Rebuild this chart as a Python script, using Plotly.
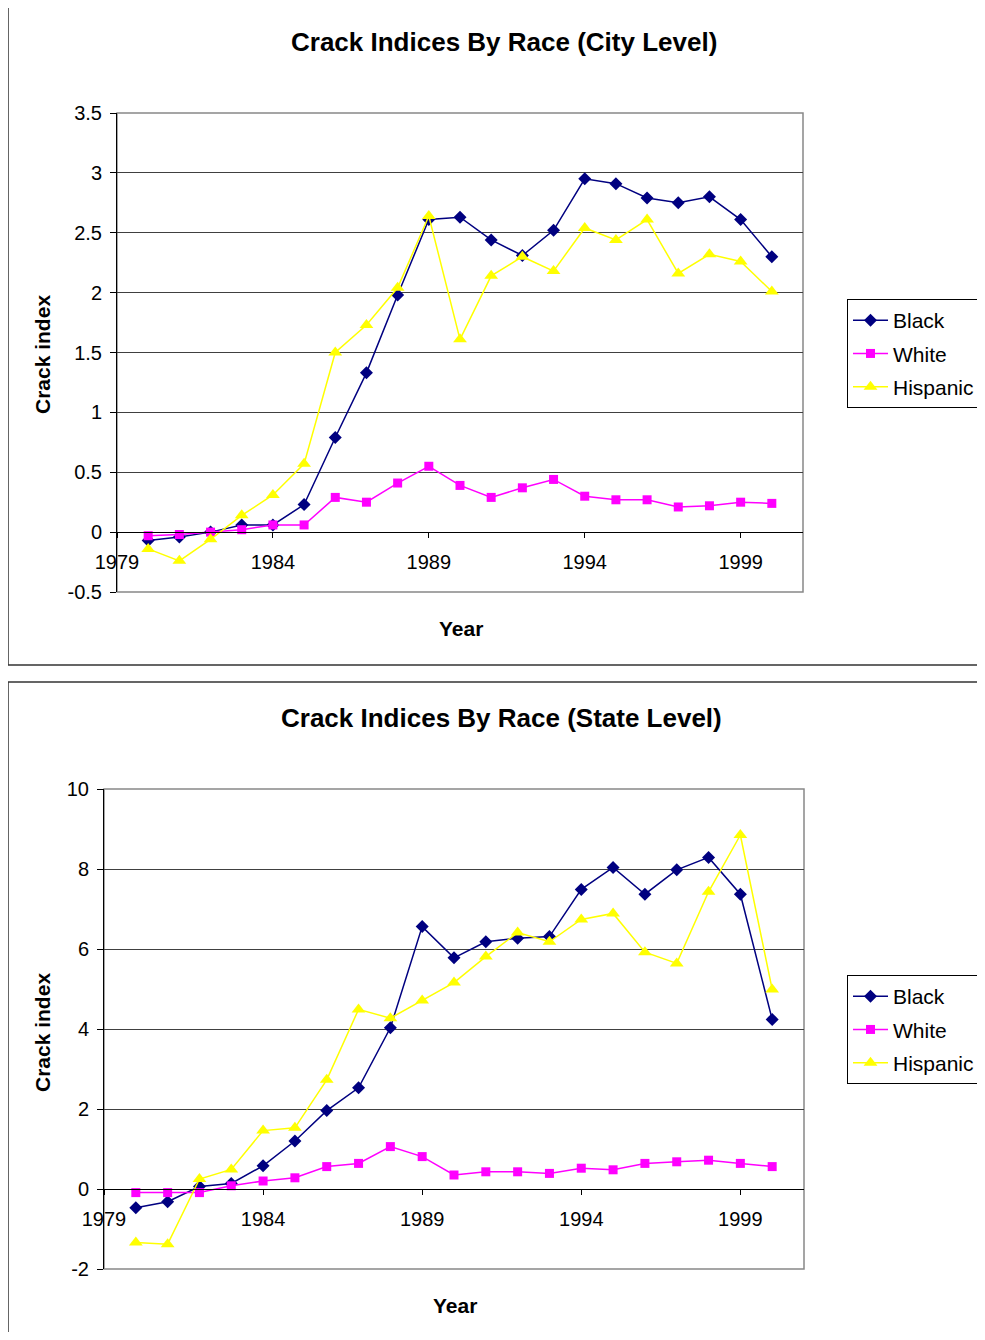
import plotly.graph_objects as go

# Años (1980-2000)
anios = list(range(1980, 2001))

# Índices a nivel ciudad
ciudad_black = [-0.07, -0.04, 0.0, 0.06, 0.06, 0.23, 0.79, 1.33, 1.98, 2.61, 2.63,
                2.44, 2.31, 2.52, 2.95, 2.91, 2.79, 2.75, 2.80, 2.61, 2.30]
ciudad_white = [-0.03, -0.02, 0.0, 0.02, 0.06, 0.06, 0.29, 0.25, 0.41, 0.55, 0.39,
                0.29, 0.37, 0.44, 0.30, 0.27, 0.27, 0.21, 0.22, 0.25, 0.24]
ciudad_hispanic = [-0.14, -0.24, -0.06, 0.14, 0.31, 0.57, 1.50, 1.73, 2.04, 2.64, 1.61,
                   2.14, 2.30, 2.18, 2.54, 2.44, 2.61, 2.16, 2.32, 2.26, 2.01]

# Índices a nivel estado
estado_black = [-0.47, -0.32, 0.06, 0.14, 0.58, 1.20, 1.96, 2.53, 4.03, 6.56, 5.78,
                6.18, 6.27, 6.31, 7.49, 8.04, 7.37, 7.98, 8.29, 7.37, 4.24]
estado_white = [-0.09, -0.09, -0.09, 0.08, 0.20, 0.28, 0.56, 0.64, 1.06, 0.81, 0.35,
                0.43, 0.43, 0.39, 0.52, 0.48, 0.64, 0.68, 0.72, 0.64, 0.56]
estado_hispanic = [-1.34, -1.38, 0.25, 0.49, 1.46, 1.53, 2.73, 4.49, 4.27, 4.71, 5.16,
                   5.81, 6.41, 6.18, 6.74, 6.89, 5.92, 5.64, 7.43, 8.85, 4.99]

# Marcas de los ejes
ticks_x = [1979, 1984, 1989, 1994, 1999]
ticks_y1 = [-0.5, 0, 0.5, 1, 1.5, 2, 2.5, 3, 3.5]
etiquetas_y1 = ['-0.5', '0', '0.5', '1', '1.5', '2', '2.5', '3', '3.5']
ticks_y2 = [-2, 0, 2, 4, 6, 8, 10]
etiquetas_y2 = ['-2', '0', '2', '4', '6', '8', '10']

# La página tiene 8 px de margen en el body: la figura se reduce para que quepa
OX, OY = 8, 8
W, H = 985 - 2 * OX, 1340 - 2 * OY
FUENTE = 'Liberation Sans, Arial, sans-serif'

ESTILOS = {
    'Black': dict(color='#000080', symbol='diamond', size=10),
    'White': dict(color='#FF00FF', symbol='square', size=9),
    'Hispanic': dict(color='#FFFF00', symbol='triangle-up', size=12),
}


def px_x(x):
    return (x - OX) / W


def px_y(y):
    return 1 - (y - OY) / H


fig = go.Figure()

series = [
    ('x', 'y', 'legend', [('Black', ciudad_black), ('White', ciudad_white), ('Hispanic', ciudad_hispanic)]),
    ('x2', 'y2', 'legend2', [('Black', estado_black), ('White', estado_white), ('Hispanic', estado_hispanic)]),
]

for xa, ya, leg, datos in series:
    for nombre, valores in datos:
        est = ESTILOS[nombre]
        fig.add_trace(go.Scatter(
            x=anios, y=valores, name=nombre, mode='lines+markers',
            xaxis=xa, yaxis=ya, legend=leg, legendgroup=xa + nombre,
            line=dict(color=est['color'], width=1.5),
            marker=dict(symbol=est['symbol'], size=est['size'],
                        color=est['color'], line=dict(width=0)),
        ))

# Dominios de las áreas de trazado (en píxeles del original)
dom1_x = [px_x(117), px_x(803)]
dom1_y = [px_y(592), px_y(113)]
dom2_x = [px_x(104), px_x(804)]
dom2_y = [px_y(1269), px_y(789)]

# Posición del eje x en y=0
pos1 = dom1_y[0] + (0 - (-0.5)) / 4.0 * (dom1_y[1] - dom1_y[0])
pos2 = dom2_y[0] + (0 - (-2)) / 12.0 * (dom2_y[1] - dom2_y[0])

tick_font = dict(family=FUENTE, size=20, color='black')

eje_x = dict(range=[1979, 2001], tickvals=ticks_x, showgrid=False, zeroline=False,
             showline=True, linecolor='black', linewidth=1, ticks='outside', ticklen=5,
             tickcolor='black', tickfont=tick_font, anchor='free', ticklabelstandoff=7)
eje_y = dict(showgrid=True, gridcolor='#404040', gridwidth=1, zeroline=False,
             showline=True, linecolor='black', linewidth=1, ticks='outside', ticklen=6,
             tickcolor='black', tickfont=tick_font, ticklabelstandoff=4)

leyenda = dict(xanchor='left', yanchor='top', bordercolor='black', borderwidth=1,
               bgcolor='white', font=dict(family=FUENTE, size=21, color='black'),
               tracegroupgap=3, itemwidth=35)

fig.update_layout(
    width=W, height=H,
    # sin autoexpand: la leyenda puede salirse por la derecha como en el original
    margin=dict(l=0, r=0, t=0, b=0, autoexpand=False),
    paper_bgcolor='white', plot_bgcolor='white',
    font=dict(family=FUENTE, color='black'),
    xaxis=dict(eje_x, domain=dom1_x, position=pos1),
    yaxis=dict(eje_y, domain=dom1_y, range=[-0.5, 3.5], tickvals=ticks_y1,
               ticktext=etiquetas_y1, anchor='x'),
    xaxis2=dict(eje_x, domain=dom2_x, position=pos2),
    yaxis2=dict(eje_y, domain=dom2_y, range=[-2, 10], tickvals=ticks_y2,
                ticktext=etiquetas_y2, anchor='x2'),
    legend=dict(leyenda, x=px_x(847), y=px_y(299)),
    legend2=dict(leyenda, x=px_x(847), y=px_y(975)),
)

# Marcos exteriores y bordes de las áreas de trazado
formas = [
    dict(type='rect', xref='paper', yref='paper', x0=px_x(8), x1=1.05, y0=px_y(665), y1=px_y(5),
         line=dict(color='#333333', width=1.5)),
    dict(type='rect', xref='paper', yref='paper', x0=px_x(8), x1=1.05, y0=-0.05, y1=px_y(682),
         line=dict(color='#333333', width=1.5)),
    dict(type='rect', xref='paper', yref='paper', x0=dom1_x[0], x1=dom1_x[1], y0=dom1_y[0], y1=dom1_y[1],
         line=dict(color='#888888', width=1.5), layer='below'),
    dict(type='rect', xref='paper', yref='paper', x0=dom2_x[0], x1=dom2_x[1], y0=dom2_y[0], y1=dom2_y[1],
         line=dict(color='#888888', width=1.5), layer='below'),
]
fig.update_layout(shapes=formas)

titulo_font = dict(family=FUENTE, size=26, color='black')
eje_font = dict(family=FUENTE, size=21, color='black')
textos = [
    ('<b>Crack Indices By Race (City Level)</b>', 504, 42, 0, titulo_font),
    ('<b>Year</b>', 461, 628, 0, eje_font),
    ('<b>Crack index</b>', 42, 355, -90, eje_font),
    ('<b>Crack Indices By Race (State Level)</b>', 502, 718, 0, titulo_font),
    ('<b>Year</b>', 455, 1305, 0, eje_font),
    ('<b>Crack index</b>', 42, 1033, -90, eje_font),
]
for texto, x, y, ang, f in textos:
    fig.add_annotation(text=texto, xref='paper', yref='paper', x=px_x(x), y=px_y(y),
                       xanchor='center', yanchor='middle', showarrow=False,
                       textangle=ang, font=f)

fig.write_html("out.html")
